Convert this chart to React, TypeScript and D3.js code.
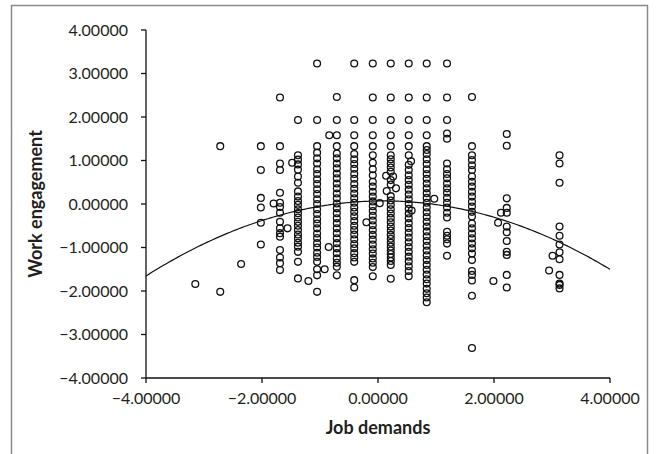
import React from "react";
import * as d3 from "d3";

const xTicks = [-4, -2, 0, 2, 4];
const yTicks = [-4, -3, -2, -1, 0, 1, 2, 3, 4];

// Discrete job-demand columns and the work-engagement values stacked on each
const colX = [-2.02, -1.69, -1.38, -1.05, -0.71, -0.41, -0.09, 0.22, 0.53, 0.84, 1.19, 1.62, 2.22, 3.13];
const colY: number[][] = [
  [1.33, 0.78, 0.14, -0.08, -0.43, -0.93],
  [2.45, 1.33, 0.93, 0.78, 0.26, 0.03, -0.07, -0.2, -0.41, -0.56, -0.67, -0.75, -1.06, -1.23, -1.36, -1.52],
  [1.93, 1.12, 1.02, 0.91, 0.79, 0.63, 0.49, 0.29, 0.17, 0.07, -0.02, -0.12, -0.21, -0.31, -0.41, -0.5, -0.6, -0.7, -0.79, -0.89, -0.98, -1.1, -1.33, -1.71],
  [3.23, 1.93, 1.33, 1.18, 1.05, 0.93, 0.8, 0.69, 0.57, 0.46, 0.34, 0.23, 0.11, 0.0, -0.12, -0.23, -0.35, -0.45, -0.56, -0.68, -0.78, -0.9, -1.0, -1.12, -1.22, -1.33, -1.5, -1.64, -2.02],
  [2.46, 1.93, 1.58, 1.33, 1.16, 1.05, 0.93, 0.82, 0.7, 0.59, 0.47, 0.36, 0.24, 0.13, 0.01, -0.1, -0.21, -0.33, -0.44, -0.56, -0.67, -0.79, -0.9, -1.02, -1.13, -1.25, -1.35, -1.44, -1.64],
  [3.23, 1.93, 1.58, 1.33, 1.15, 1.03, 0.92, 0.81, 0.69, 0.58, 0.46, 0.35, 0.24, 0.13, 0.03, -0.08, -0.18, -0.28, -0.39, -0.5, -0.6, -0.7, -0.81, -0.92, -1.02, -1.13, -1.23, -1.33, -1.75, -1.92],
  [3.23, 2.45, 1.93, 1.58, 1.33, 1.12, 0.95, 0.8, 0.66, 0.51, 0.4, 0.28, 0.17, 0.06, -0.05, -0.16, -0.27, -0.38, -0.49, -0.6, -0.71, -0.82, -0.93, -1.04, -1.14, -1.25, -1.35, -1.45, -1.66],
  [3.23, 2.45, 1.93, 1.58, 1.33, 1.12, 1.03, 0.93, 0.84, 0.74, 0.55, 0.45, 0.18, 0.08, -0.02, -0.12, -0.22, -0.32, -0.42, -0.52, -0.61, -0.71, -0.8, -0.89, -0.98, -1.07, -1.15, -1.23, -1.31, -1.4, -1.72],
  [3.23, 2.45, 1.93, 1.58, 1.33, 1.12, 0.9, 0.78, 0.66, 0.55, 0.44, 0.33, 0.22, 0.11, 0.0, -0.11, -0.22, -0.33, -0.44, -0.55, -0.66, -0.77, -0.88, -0.99, -1.1, -1.21, -1.32, -1.43, -1.54, -1.66],
  [3.23, 2.45, 1.93, 1.58, 1.33, 1.24, 1.15, 1.03, 0.92, 0.8, 0.69, 0.58, 0.47, 0.36, 0.25, 0.14, 0.03, -0.08, -0.19, -0.3, -0.41, -0.52, -0.63, -0.74, -0.85, -0.96, -1.07, -1.18, -1.29, -1.4, -1.51, -1.62, -1.73, -1.83, -1.95, -2.05, -2.15, -2.26],
  [3.23, 2.45, 1.93, 1.62, 1.5, 0.93, 0.8, 0.69, 0.59, 0.47, 0.36, 0.26, 0.14, 0.03, -0.08, -0.2, -0.31, -0.64, -0.73, -0.81, -0.91, -1.19],
  [2.46, 1.33, 1.12, 1.01, 0.89, 0.78, 0.63, 0.51, 0.4, 0.28, 0.17, 0.05, -0.06, -0.18, -0.29, -0.45, -0.56, -0.68, -0.79, -0.91, -1.02, -1.14, -1.29, -1.54, -1.63, -1.76, -2.11, -3.31],
  [1.61, 1.34, 0.13, -0.09, -0.2, -0.52, -0.65, -0.85, -1.1, -1.17, -1.63, -1.92],
  [1.12, 0.93, 0.49, -0.52, -0.73, -0.93, -1.11, -1.27, -1.63, -1.83, -1.86, -1.94],
];

// Points that sit between the columns
const extraX = [-3.15, -2.72, -2.72, -2.36, -1.8, -1.56, -1.48, -1.2, -0.92, -0.84, -0.85, -0.2, 0.03, 0.14, 0.26, 0.31, 0.15, 0.57, 0.58, 0.97, 1.99, 2.07, 2.12, 2.95, 3.01];
const extraY = [-1.84, 1.33, -2.02, -1.38, 0.01, -0.56, 0.95, -1.77, -1.5, 1.58, -0.99, -0.42, 0.02, 0.65, 0.63, 0.36, 0.3, 0.98, -0.15, 0.12, -1.77, -0.43, -0.2, -1.53, -1.19];

// Quadratic fit line
const fitIntercept = 0.07;
const fitLinear = 0.019;
const fitQuad = -0.103;

const FONT = "Lato, 'Open Sans', sans-serif";
const TEXT = "#231f20";

export default function App() {
  const x = d3.scaleLinear().domain([-4, 4]).range([146, 610]);
  const y = d3.scaleLinear().domain([-4, 4]).range([378, 30]);
  const fmt = d3.format(".5f");

  const points: { px: number; py: number }[] = [];
  colX.forEach((cx, i) => colY[i].forEach((v) => points.push({ px: x(cx), py: y(v) })));
  extraX.forEach((ex, i) => points.push({ px: x(ex), py: y(extraY[i]) }));

  const curveXs = d3.range(-4, 4.0001, 0.05);
  const line = d3
    .line<number>()
    .x((d) => x(d))
    .y((d) => y(fitIntercept + fitLinear * d + fitQuad * d * d))
    .curve(d3.curveBasis);

  return (
    <svg
      width={660}
      height={454}
      style={{ position: "absolute", left: 0, top: 0, background: "#fff" }}
    >
      <rect x={11.5} y={5.5} width={636} height={470} fill="none" stroke="#8a8a8a" strokeWidth={1.5} />

      {/* axes */}
      <line x1={x(-4)} x2={x(-4)} y1={y(4)} y2={y(-4)} stroke="#111" strokeWidth={1.3} />
      <line x1={x(-4)} x2={x(4)} y1={y(-4)} y2={y(-4)} stroke="#111" strokeWidth={1.3} />
      {yTicks.map((t) => (
        <g key={"y" + t}>
          <line x1={x(-4) - 5} x2={x(-4)} y1={y(t)} y2={y(t)} stroke="#111" strokeWidth={1.3} />
          <text
            x={x(-4) - 18}
            y={y(t)}
            dy="0.36em"
            textAnchor="end"
            fontFamily={FONT}
            fontSize={16}
            fill={TEXT}
          >
            {fmt(t)}
          </text>
        </g>
      ))}
      {xTicks.map((t) => (
        <g key={"x" + t}>
          <line x1={x(t)} x2={x(t)} y1={y(-4)} y2={y(-4) + 5} stroke="#111" strokeWidth={1.3} />
          <text x={x(t)} y={404} textAnchor="middle" fontFamily={FONT} fontSize={16} fill={TEXT}>
            {fmt(t)}
          </text>
        </g>
      ))}

      {/* points */}
      {points.map((p, i) => (
        <circle key={i} cx={p.px} cy={p.py} r={3.4} fill="none" stroke="#111" strokeWidth={1.3} />
      ))}

      {/* fit curve */}
      <path d={line(curveXs) || ""} fill="none" stroke="#111" strokeWidth={1.2} />

      <text x={378} y={434} textAnchor="middle" fontFamily={FONT} fontWeight={700} fontSize={18} fill={TEXT}>
        Job demands
      </text>
      <text
        transform={`translate(36, 204) rotate(-90)`}
        textAnchor="middle"
        dy="0.36em"
        fontFamily={FONT}
        fontWeight={700}
        fontSize={18}
        fill={TEXT}
      >
        Work engagement
      </text>
    </svg>
  );
}
